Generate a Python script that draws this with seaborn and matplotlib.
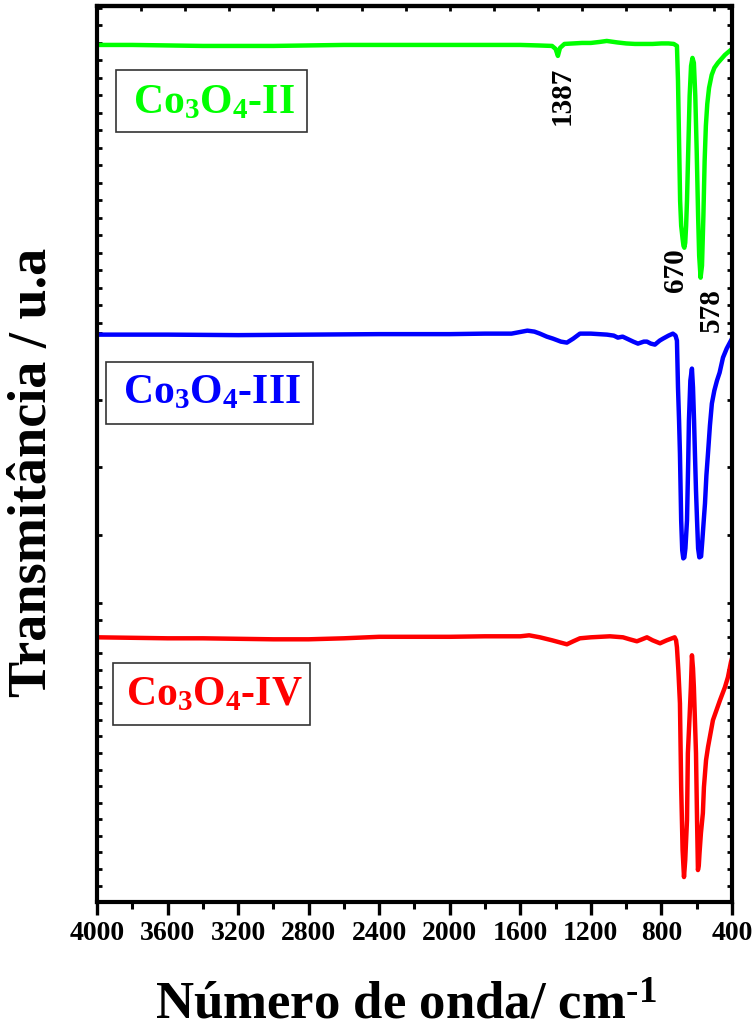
import numpy as np
import pandas as pd
import matplotlib
matplotlib.use("Agg")
import matplotlib.pyplot as plt
from matplotlib.patches import Rectangle
from matplotlib.ticker import FixedLocator, MultipleLocator
import seaborn as sns

# FTIR spectra of Co3O4 samples (offset, arbitrary units)
wn_II = [4000, 3800, 3600, 3400, 3200, 3000, 2800, 2600, 2400, 2200, 2000, 1800,
         1600, 1500, 1420, 1400, 1387, 1375, 1350, 1300, 1250, 1200, 1150, 1110,
         1050, 1000, 950, 900, 850, 800, 760, 730, 712, 706, 700, 694, 688, 680,
         675, 670, 665, 660, 655, 648, 640, 632, 624, 616, 608, 600, 592, 586,
         578, 570, 562, 555, 548, 540, 530, 515, 500, 480, 460, 440, 420, 400]
px_II = [44, 44, 44.5, 45, 45, 45, 44.5, 44, 44, 44, 44, 44,
         44, 44.5, 45, 48, 55, 47, 43, 42.5, 42, 42, 41, 40,
         41.5, 42.5, 43, 43, 43, 42.5, 42.5, 43, 45, 80, 140, 200, 225, 238,
         245, 247, 242, 225, 200, 150, 95, 65, 57, 62, 95, 150, 215, 255,
         277, 265, 215, 160, 125, 103, 87, 74, 67, 62, 58, 54, 51, 48]

wn_III = [4000, 3600, 3200, 2800, 2400, 2000, 1800, 1650, 1560, 1520, 1489, 1450,
          1415, 1370, 1336, 1300, 1262, 1200, 1109, 1070, 1047, 1020, 996, 960,
          933, 900, 882, 860, 837, 810, 791, 760, 735, 720, 712, 706, 700, 695,
          688, 682, 676, 670, 664, 655, 648, 644, 636, 627, 621, 615, 610, 604,
          598, 592, 585, 575, 568, 560, 553, 545, 536, 525, 514, 500, 485, 470,
          451, 430, 412, 400]
px_III = [334, 334, 334.5, 334, 333.5, 333.5, 333, 333, 330, 331, 333, 336,
          338, 341, 342, 338, 333, 333, 334, 335, 337, 336, 338, 341,
          343, 341, 341, 343, 344, 340, 338, 335, 333, 335, 340, 387, 420, 453,
          520, 550, 558, 557, 548, 520, 460, 420, 380, 368, 387, 420, 453, 490,
          520, 548, 557, 556, 540, 520, 503, 475, 453, 425, 403, 390, 380, 372,
          357, 348, 342, 338]

wn_IV = [4000, 3800, 3600, 3400, 3200, 3000, 2800, 2600, 2400, 2200, 2000, 1800,
         1600, 1550, 1489, 1420, 1336, 1300, 1262, 1200, 1092, 1018, 980, 939,
         910, 882, 850, 808, 770, 740, 725, 717, 712, 704, 695, 688, 680, 672,
         665, 655, 650, 640, 633, 627, 621, 616, 610, 604, 598, 593, 588, 584,
         576, 565, 559, 547, 536, 508, 468, 440, 423, 406, 400]
px_IV = [637, 637.5, 638, 638, 638.5, 639, 639, 638, 636.5, 636.5, 636.5, 636,
         636, 635, 637, 640, 644, 641, 638, 637, 636, 637, 639, 641,
         639, 637, 640, 643, 640, 638, 637, 640, 647, 670, 703, 787, 850, 877,
         860, 820, 753, 715, 687, 655, 668, 687, 720, 753, 820, 870, 865, 853,
         833, 813, 787, 760, 747, 720, 700, 687, 677, 662, 658]

samples = ["Co$_3$O$_4$-II", "Co$_3$O$_4$-III", "Co$_3$O$_4$-IV"]
colors = ["#00FF00", "#0000FF", "#FF0000"]

peak_labels = ["1387", "670", "578"]


def to_signal(px):
    # offset intensity scale: 0 at the bottom frame, 100 at the top frame
    return [(902 - p) / 8.97 for p in px]


df = pd.concat([
    pd.DataFrame({"wavenumber": wn_II, "signal": to_signal(px_II), "sample": samples[0]}),
    pd.DataFrame({"wavenumber": wn_III, "signal": to_signal(px_III), "sample": samples[1]}),
    pd.DataFrame({"wavenumber": wn_IV, "signal": to_signal(px_IV), "sample": samples[2]}),
], ignore_index=True)

sns.set_theme(style="ticks")
plt.rcParams["font.family"] = ["Liberation Serif", "DejaVu Serif"]
plt.rcParams["font.weight"] = "bold"
plt.rcParams["text.color"] = "black"
plt.rcParams["axes.labelcolor"] = "black"
plt.rcParams["xtick.color"] = "black"
plt.rcParams["ytick.color"] = "black"
plt.rcParams["mathtext.fontset"] = "custom"
plt.rcParams["mathtext.rm"] = "Liberation Serif:bold"
plt.rcParams["mathtext.it"] = "Liberation Serif:bold"
plt.rcParams["mathtext.bf"] = "Liberation Serif:bold"

fig = plt.figure(figsize=(7.55, 10.31), dpi=100)
ax = fig.add_axes([0.1285, 0.1251, 0.841, 0.8691])

sns.lineplot(data=df, x="wavenumber", y="signal", hue="sample",
             palette=dict(zip(samples, colors)), estimator=None, sort=False,
             linewidth=3.2, legend=False, ax=ax)

ax.set_xlim(4000, 400)
ax.set_ylim(0, 100)
ax.set_xlabel("")
ax.set_ylabel("")

for s in ax.spines.values():
    s.set_linewidth(3)
    s.set_color("black")

# bottom axis: outward ticks with labels
ax.xaxis.set_major_locator(MultipleLocator(400))
ax.xaxis.set_minor_locator(MultipleLocator(200))
ax.tick_params(axis="x", which="major", direction="out", length=9, width=2.4,
               labelsize=20, pad=5, colors="black")
ax.tick_params(axis="x", which="minor", direction="out", length=5, width=2.2,
               colors="black")
for lab in ax.get_xticklabels():
    lab.set_fontweight("bold")

# top axis: small inward ticks
top = ax.secondary_xaxis("top")
top.xaxis.set_major_locator(MultipleLocator(250))
top.tick_params(direction="in", length=3.5, width=2, labeltop=False,
                colors="black")
top.spines["top"].set_linewidth(3)
top.spines["top"].set_color("black")


def px_to_y(vals):
    return [(902 - v) / 8.97 for v in vals]


ytick_px = list(np.arange(7, 323, 17.5)) + [332, 399.5, 467, 535, 603] + \
    list(np.arange(620, 903, 16.6))
ax.yaxis.set_major_locator(FixedLocator(px_to_y(ytick_px)))
ax.tick_params(axis="y", which="major", direction="in", length=3.5, width=2,
               left=True, right=True, labelleft=False, colors="black")

# sample tags
box_specs = [
    (samples[0], colors[0], (116, 69, 307, 131), (214, 112)),
    (samples[1], colors[1], (106, 361, 313, 423), (212, 403)),
    (samples[2], colors[2], (113, 663, 310, 725), (214, 705)),
]
for name, col, (x0, y0, x1, y1), (tx, ty) in box_specs:
    ax.add_patch(Rectangle(((x0 - 97) / 635, (902 - y1) / 897),
                           (x1 - x0) / 635, (y1 - y0) / 897,
                           transform=ax.transAxes, fill=False,
                           edgecolor="#333333", linewidth=1.2, zorder=3))
    ax.text((tx - 97) / 635, (902 - ty) / 897, name, transform=ax.transAxes,
            color=col, fontsize=30, fontweight="bold", ha="center",
            va="baseline", zorder=4)

# band positions
ax.text(1364, 90.0, peak_labels[0], rotation=90, ha="center", va="center",
        fontsize=21, fontweight="bold", color="black")
ax.text(718, 70.5, peak_labels[1], rotation=90, ha="center", va="center",
        fontsize=21, fontweight="bold", color="black")
ax.text(519, 66.1, peak_labels[2], rotation=90, ha="center", va="center",
        fontsize=21, fontweight="bold", color="black")

fig.text(406 / 755, 1 - 1019 / 1031, r"Número de onda/ cm$^{\text{-1}}$",
         ha="center", va="baseline", fontsize=38, fontweight="bold",
         color="black")
fig.text(33 / 755, 1 - 472 / 1031, "Transmitância / u.a", rotation=90,
         ha="center", va="center", fontsize=39, fontweight="bold",
         color="black")

fig.savefig("out.png", dpi=100)
